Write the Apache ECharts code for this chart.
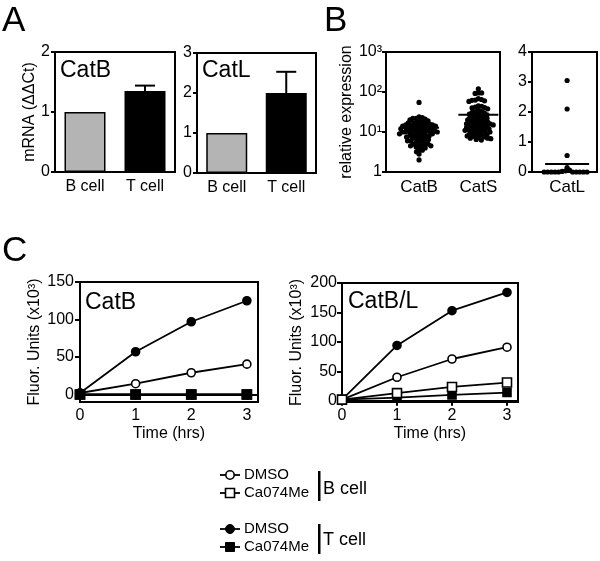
<!DOCTYPE html>
<html>
<head>
<meta charset="utf-8">
<script src="https://cdn.jsdelivr.net/npm/echarts@6/dist/echarts.min.js"></script>
<style>html,body{margin:0;padding:0;background:#fff}#c{width:600px;height:561px}</style>
</head>
<body>
<div id="c"></div>
<script>
// ---------- DATA ----------
const barCategories = ['B cell', 'T cell'];
const catBmRNA = [1, 1.35];
const catBmRNAupper = [null, 1.44];
const catLmRNA = [1, 2.0];
const catLmRNAupper = [null, 2.53];

const scatterCats = ['CatB', 'CatS'];
const catBExpr = [55, 24, 23, 22, 22, 21, 20, 20, 19, 18, 18, 17, 17, 16, 16, 16, 15, 15, 15, 14, 14, 14, 14, 13, 13, 13, 13, 12, 12, 12, 12, 11, 11, 11, 11, 11, 10, 10, 10, 10, 10, 9.5, 9.5, 9, 9, 9, 8.5, 8.5, 8, 8, 8, 7.5, 7.5, 7, 7, 7, 6.5, 6.5, 6, 6, 6, 5.5, 5.5, 5, 5, 5, 4.6, 4.5, 4.5, 4.3, 4.2, 4, 3.6, 3.5, 3.2, 2.8, 2];
const catSExpr = [120, 95, 95, 92, 68, 65, 63, 62, 60, 58, 45, 44, 42, 41, 40, 38, 35, 33, 32, 31, 30, 29, 28, 27, 26, 25, 25, 24, 23, 22, 22, 21, 20, 20, 19, 19, 18, 18, 17, 17, 16, 16, 16, 15, 15, 15, 14, 14, 14, 13, 13, 13, 12, 12, 12, 11.5, 11, 11, 10.5, 10, 10, 10, 9.5, 9, 9, 8.5, 8.5, 8, 8, 7.8, 7.5, 7.2, 7, 7, 6.8, 6.5, 6.3];
const catLCat = ['CatL'];
const catLExpr = [3.05, 2.1, 0.55, 0.15, 0.06, 0.04, 0.02, 0, 0, 0, 0, 0, 0, 0, 0, 0, 0];
const catBLine = 12.8, catSLine = 27, catLLine = 0.27;

const logTickLabels = {1: '1', 10: '10¹', 100: '10²', 1000: '10³'};

const timeHrs = [0, 1, 2, 3];
const c1_B_DMSO = [2, 14.4, 29, 40.5];
const c1_B_Ca = [0, 0, 0, 0];
const c1_T_DMSO = [2, 57, 97, 125];
const c1_T_Ca = [0, 0, 0, 0];
const c2_B_DMSO = [2, 40, 71, 91];
const c2_B_Ca = [2, 13, 23.5, 31];
const c2_T_DMSO = [2, 94, 153, 184];
const c2_T_Ca = [2, 5.5, 10, 14];

const c1Ticks = [0, 50, 100, 150];
const c2Ticks = [0, 50, 100, 150, 200];

// ---------- STYLE / LAYOUT ----------
const FF = '"Liberation Sans", Arial, Helvetica, sans-serif';
const K = '#000';
const grids = [
  {left: 55, top: 52, width: 120, height: 120},
  {left: 197, top: 53, width: 119, height: 120},
  {left: 386, top: 52, width: 114, height: 120},
  {left: 532, top: 52, width: 65, height: 120},
  {left: 80, top: 282, width: 178, height: 120},
  {left: 342, top: 283, width: 176, height: 119}
].map(g => Object.assign({show: true, borderColor: K, borderWidth: 2, backgroundColor: 'transparent', containLabel: false, outerBoundsMode: 'none'}, g));

const lineAx = {show: true, lineStyle: {color: K, width: 2}};
const tickAx = {show: true, inside: false, length: 4, lineStyle: {color: K, width: 2}};
const labStyle = {color: K, fontFamily: FF, fontSize: 16};
const nameStyle = {color: K, fontFamily: FF, fontSize: 16};

function beeswarm(values, toPx, d) {
  const placed = [];
  return values.map(v => {
    const y = toPx(v);
    const near = placed.filter(p => Math.abs(p.y - y) < d);
    const cands = [0];
    near.forEach(p => {
      const dx = Math.sqrt(d * d - (p.y - y) * (p.y - y));
      cands.push(p.x + dx, p.x - dx);
    });
    cands.sort((a, b) => (Math.abs(a) - Math.abs(b)) || (b - a));
    let x = 0;
    for (const c of cands) {
      if (near.every(p => (p.x - c) * (p.x - c) + (p.y - y) * (p.y - y) >= d * d - 1e-6)) { x = c; break; }
    }
    placed.push({x, y});
    return x;
  });
}

const bCenters = [0.29, 0.81];
const lCenter = 0.54;
const logPx = v => Math.log10(v) * grids[2].height / 3;
const linPx = v => v * grids[3].height / 4;
function swarmData(values, center, toPx, width, d) {
  const off = beeswarm(values, toPx, d);
  return values.map((v, i) => [center + off[i] / width, v]);
}

function errRender(params, api) {
  const lo = api.coord([api.value(0), api.value(1)]);
  const hi = api.coord([api.value(0), api.value(2)]);
  return {type: 'group', children: [
    {type: 'line', shape: {x1: lo[0], y1: lo[1], x2: hi[0], y2: hi[1]}, style: {stroke: K, lineWidth: 2}},
    {type: 'line', shape: {x1: hi[0] - 10, y1: hi[1], x2: hi[0] + 10, y2: hi[1]}, style: {stroke: K, lineWidth: 2}}
  ]};
}
function meanRender(half) {
  return function (params, api) {
    const p = api.coord([api.value(0), api.value(1)]);
    return {type: 'line', shape: {x1: p[0] - half, y1: p[1], x2: p[0] + half, y2: p[1]}, style: {stroke: K, lineWidth: 2}};
  };
}
function errData(means, uppers) {
  const out = [];
  means.forEach((m, i) => { if (uppers[i] != null) out.push([i, m, uppers[i]]); });
  return out;
}
const zip = (xs, ys) => xs.map((x, i) => [x, ys[i]]);

function lineSeries(idx, data, filled, symbol, size) {
  return {
    type: 'line', xAxisIndex: idx, yAxisIndex: idx, data: zip(timeHrs, data),
    symbol: symbol, symbolSize: size, showSymbol: true, clip: false,
    lineStyle: {color: K, width: 1.8},
    itemStyle: {color: filled ? K : '#fff', borderColor: K, borderWidth: 1.6, opacity: 1},
    emphasis: {disabled: true}
  };
}
function dotSeries(idx, data) {
  return {type: 'scatter', xAxisIndex: idx, yAxisIndex: idx, symbolSize: 5.2, clip: false,
    itemStyle: {color: K, opacity: 1}, emphasis: {disabled: true}, data: data};
}

const option = {
  animation: false,
  backgroundColor: '#fff',
  grid: grids,
  xAxis: [
    {gridIndex: 0, type: 'category', data: barCategories, axisLine: lineAx, axisTick: {show: false}, axisLabel: Object.assign({margin: 7}, labStyle), splitLine: {show: false}},
    {gridIndex: 1, type: 'category', data: barCategories, axisLine: lineAx, axisTick: {show: false}, axisLabel: Object.assign({margin: 7}, labStyle), splitLine: {show: false}},
    {gridIndex: 2, type: 'value', min: 0, max: 1, axisLine: lineAx, axisTick: {show: false}, splitLine: {show: false},
      axisLabel: Object.assign({margin: 7, customValues: bCenters, formatter: v => scatterCats[v < 0.5 ? 0 : 1]}, labStyle, {fontSize: 17})},
    {gridIndex: 3, type: 'value', min: 0, max: 1, axisLine: lineAx, axisTick: {show: false}, splitLine: {show: false},
      axisLabel: Object.assign({margin: 7, customValues: [lCenter], formatter: () => catLCat[0]}, labStyle, {fontSize: 17})},
    {gridIndex: 4, type: 'value', min: 0, max: 3.2, axisLine: lineAx, splitLine: {show: false},
      axisTick: Object.assign({}, tickAx, {length: 5, customValues: timeHrs}),
      axisLabel: Object.assign({margin: 6, customValues: timeHrs}, labStyle),
      name: 'Time (hrs)', nameLocation: 'middle', nameGap: 24, nameTextStyle: nameStyle},
    {gridIndex: 5, type: 'value', min: 0, max: 3.2, axisLine: lineAx, splitLine: {show: false},
      axisTick: Object.assign({}, tickAx, {length: 5, customValues: timeHrs}),
      axisLabel: Object.assign({margin: 6, customValues: timeHrs}, labStyle),
      name: 'Time (hrs)', nameLocation: 'middle', nameGap: 24, nameTextStyle: nameStyle}
  ],
  yAxis: [
    {gridIndex: 0, type: 'value', min: 0, max: 2, interval: 1, axisLine: lineAx, axisTick: tickAx, splitLine: {show: false},
      axisLabel: Object.assign({margin: 5}, labStyle),
      name: 'mRNA (ΔΔCt)', nameLocation: 'middle', nameGap: 16, nameTextStyle: nameStyle},
    {gridIndex: 1, type: 'value', min: 0, max: 3, interval: 1, axisLine: lineAx, axisTick: tickAx, splitLine: {show: false},
      axisLabel: Object.assign({margin: 5}, labStyle)},
    {gridIndex: 2, type: 'log', logBase: 10, min: 1, max: 1000, axisLine: lineAx, axisTick: tickAx, splitLine: {show: false}, minorTick: {show: false},
      axisLabel: Object.assign({margin: 4, formatter: v => logTickLabels[Math.round(v)] || ''}, labStyle),
      name: 'relative expression', nameLocation: 'middle', nameGap: 26, nameTextStyle: nameStyle},
    {gridIndex: 3, type: 'value', min: 0, max: 4, interval: 1, axisLine: lineAx, axisTick: tickAx, splitLine: {show: false},
      axisLabel: Object.assign({margin: 5}, labStyle)},
    {gridIndex: 4, type: 'value', min: -10, max: 150, axisLine: lineAx, splitLine: {show: false},
      axisTick: Object.assign({}, tickAx, {length: 5, customValues: c1Ticks}),
      axisLabel: Object.assign({margin: 6, customValues: c1Ticks}, labStyle),
      name: 'Fluor. Units (x10³)', nameLocation: 'middle', nameGap: 37, nameTextStyle: nameStyle},
    {gridIndex: 5, type: 'value', min: -2, max: 200, axisLine: lineAx, splitLine: {show: false},
      axisTick: Object.assign({}, tickAx, {length: 5, customValues: c2Ticks}),
      axisLabel: Object.assign({margin: 5, customValues: c2Ticks}, labStyle),
      name: 'Fluor. Units (x10³)', nameLocation: 'middle', nameGap: 37, nameTextStyle: nameStyle}
  ],
  series: [
    {type: 'bar', xAxisIndex: 0, yAxisIndex: 0, barWidth: 41,
      data: catBmRNA.map((v, i) => ({value: v, itemStyle: {color: i === 0 ? '#b4b4b4' : K, borderColor: K, borderWidth: 1.5}}))},
    {type: 'custom', xAxisIndex: 0, yAxisIndex: 0, renderItem: errRender, data: errData(catBmRNA, catBmRNAupper), clip: false},
    {type: 'bar', xAxisIndex: 1, yAxisIndex: 1, barWidth: 41,
      data: catLmRNA.map((v, i) => ({value: v, itemStyle: {color: i === 0 ? '#b4b4b4' : K, borderColor: K, borderWidth: 1.5}}))},
    {type: 'custom', xAxisIndex: 1, yAxisIndex: 1, renderItem: errRender, data: errData(catLmRNA, catLmRNAupper), clip: false},

    dotSeries(2, swarmData(catBExpr, bCenters[0], logPx, grids[2].width, 3.3)),
    dotSeries(2, swarmData(catSExpr, bCenters[1], logPx, grids[2].width, 3.3)),
    {type: 'custom', xAxisIndex: 2, yAxisIndex: 2, renderItem: meanRender(20), data: [[bCenters[0], catBLine], [bCenters[1], catSLine]], clip: false, z: 5},
    dotSeries(3, swarmData(catLExpr, lCenter, linPx, grids[3].width, 3.6)),
    {type: 'custom', xAxisIndex: 3, yAxisIndex: 3, renderItem: meanRender(22), data: [[lCenter, catLLine]], clip: false, z: 5},

    lineSeries(4, c1_B_DMSO, false, 'circle', 8),
    lineSeries(4, c1_T_DMSO, true, 'circle', 8),
    lineSeries(4, c1_B_Ca, false, 'rect', 9),
    lineSeries(4, c1_T_Ca, true, 'rect', 9),
    lineSeries(5, c2_T_DMSO, true, 'circle', 8),
    lineSeries(5, c2_B_DMSO, false, 'circle', 8),
    lineSeries(5, c2_T_Ca, true, 'rect', 8),
    lineSeries(5, c2_B_Ca, false, 'rect', 9)
  ],
  graphic: [
    {type: 'text', left: 2, top: 4, style: {text: 'A', font: '35px ' + FF, fill: K}},
    {type: 'text', left: 324, top: 4, style: {text: 'B', font: '35px ' + FF, fill: K}},
    {type: 'text', left: 2, top: 234, style: {text: 'C', font: '35px ' + FF, fill: K}},
    {type: 'text', x: 60, y: 71, style: {text: 'CatB', font: '23px ' + FF, fill: K, verticalAlign: 'middle'}},
    {type: 'text', x: 202, y: 71, style: {text: 'CatL', font: '23px ' + FF, fill: K, verticalAlign: 'middle'}},
    {type: 'text', x: 85, y: 303, style: {text: 'CatB', font: '23px ' + FF, fill: K, verticalAlign: 'middle'}},
    {type: 'text', x: 348, y: 302, style: {text: 'CatB/L', font: '23px ' + FF, fill: K, verticalAlign: 'middle'}},

    // legend B cell
    {type: 'line', shape: {x1: 220, y1: 475, x2: 240, y2: 475}, style: {stroke: K, lineWidth: 1.8}},
    {type: 'circle', shape: {cx: 230, cy: 475, r: 4.2}, style: {fill: '#fff', stroke: K, lineWidth: 1.6}},
    {type: 'text', x: 244, y: 475, style: {text: 'DMSO', font: '15px ' + FF, fill: K, verticalAlign: 'middle'}},
    {type: 'line', shape: {x1: 220, y1: 493, x2: 240, y2: 493}, style: {stroke: K, lineWidth: 1.8}},
    {type: 'rect', shape: {x: 225.5, y: 488.5, width: 9, height: 9}, style: {fill: '#fff', stroke: K, lineWidth: 1.6}},
    {type: 'text', x: 244, y: 493, style: {text: 'Ca074Me', font: '15px ' + FF, fill: K, verticalAlign: 'middle'}},
    {type: 'rect', shape: {x: 318, y: 471, width: 2.5, height: 30}, style: {fill: K}},
    {type: 'text', x: 323, y: 489, style: {text: 'B cell', font: '18px ' + FF, fill: K, verticalAlign: 'middle'}},
    // legend T cell
    {type: 'line', shape: {x1: 220, y1: 529, x2: 240, y2: 529}, style: {stroke: K, lineWidth: 1.8}},
    {type: 'circle', shape: {cx: 230, cy: 529, r: 4.5}, style: {fill: K, stroke: K, lineWidth: 1}},
    {type: 'text', x: 244, y: 529, style: {text: 'DMSO', font: '15px ' + FF, fill: K, verticalAlign: 'middle'}},
    {type: 'line', shape: {x1: 220, y1: 547, x2: 240, y2: 547}, style: {stroke: K, lineWidth: 1.8}},
    {type: 'rect', shape: {x: 225.5, y: 542.5, width: 9, height: 9}, style: {fill: K, stroke: K, lineWidth: 1}},
    {type: 'text', x: 244, y: 547, style: {text: 'Ca074Me', font: '15px ' + FF, fill: K, verticalAlign: 'middle'}},
    {type: 'rect', shape: {x: 318, y: 524, width: 2.5, height: 30}, style: {fill: K}},
    {type: 'text', x: 323, y: 540, style: {text: 'T cell', font: '18px ' + FF, fill: K, verticalAlign: 'middle'}}
  ]
};

const chart = echarts.init(document.getElementById('c'), null, {renderer: 'canvas'});
chart.setOption(option);
</script>
</body>
</html>
